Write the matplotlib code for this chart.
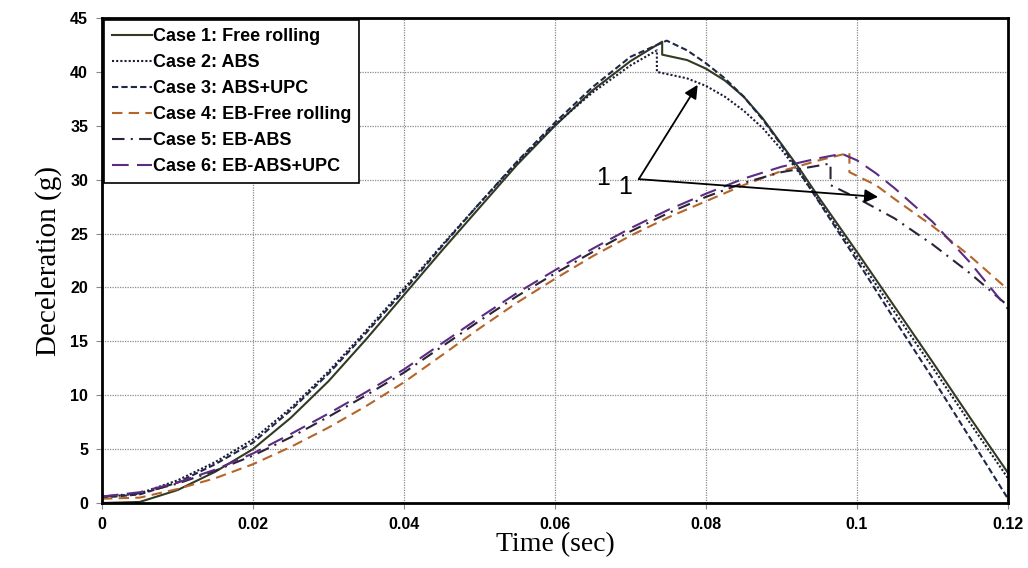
import numpy as np
import matplotlib
matplotlib.use('Agg')
import matplotlib.pyplot as plt

# ── Data ──────────────────────────────────────────────────────────────────────
t_case1 = [0.0, 0.005, 0.01, 0.015, 0.02, 0.025, 0.03, 0.035, 0.04, 0.045, 0.05, 0.055,
           0.06, 0.065, 0.07, 0.0742, 0.0742, 0.0775, 0.08, 0.0825, 0.085, 0.0875,
           0.09, 0.0925, 0.095, 0.1, 0.105, 0.11, 0.115, 0.12]
g_case1 = [0.0, 0.1, 1.2, 2.9, 5.0, 7.9, 11.3, 15.2, 19.3, 23.4, 27.4, 31.4,
           35.0, 38.3, 41.0, 42.8, 41.6, 41.1, 40.3, 39.2, 37.7, 35.7,
           33.3, 30.9, 28.3, 23.3, 18.2, 13.1, 7.9, 2.8]

t_case2 = [0.0, 0.005, 0.01, 0.015, 0.02, 0.025, 0.03, 0.035, 0.04, 0.045, 0.05, 0.055,
           0.06, 0.065, 0.07, 0.0735, 0.0735, 0.0775, 0.08, 0.0825, 0.085, 0.0875,
           0.09, 0.0925, 0.095, 0.1, 0.105, 0.11, 0.115, 0.12]
g_case2 = [0.5, 0.9, 2.1, 3.8, 5.9, 8.8, 12.2, 16.0, 19.9, 23.9, 27.8, 31.6,
           35.1, 38.1, 40.6, 42.0, 40.0, 39.4, 38.7, 37.7, 36.4, 34.8,
           32.8, 30.5, 28.0, 22.9, 17.7, 12.6, 7.4, 2.3]

t_case3 = [0.0, 0.005, 0.01, 0.015, 0.02, 0.025, 0.03, 0.035, 0.04, 0.045, 0.05, 0.055,
           0.06, 0.065, 0.07, 0.0748, 0.0775, 0.08, 0.0825, 0.085, 0.0875,
           0.09, 0.0925, 0.095, 0.1, 0.105, 0.11, 0.115, 0.12]
g_case3 = [0.5, 0.8, 1.9, 3.6, 5.6, 8.6, 12.0, 15.8, 19.7, 23.8, 27.8, 31.7,
           35.3, 38.6, 41.4, 42.9, 42.0, 40.8, 39.4, 37.7, 35.6,
           33.2, 30.6, 27.9, 22.5, 17.0, 11.6, 6.0, 0.4]

t_case4 = [0.0, 0.005, 0.01, 0.015, 0.02, 0.025, 0.03, 0.035, 0.04, 0.045, 0.05, 0.055,
           0.06, 0.065, 0.07, 0.075, 0.08, 0.085, 0.09, 0.095, 0.099,
           0.099, 0.1025, 0.105, 0.11, 0.115, 0.12]
g_case4 = [0.4, 0.5, 1.3, 2.3, 3.6, 5.2, 7.0, 9.0, 11.2, 13.7, 16.2, 18.6,
           20.8, 22.9, 24.8, 26.5, 28.0, 29.5, 30.8, 31.8, 32.5,
           30.7, 29.5, 28.2, 25.7, 22.9, 19.8]

t_case5 = [0.0, 0.005, 0.01, 0.015, 0.02, 0.025, 0.03, 0.035, 0.04, 0.045, 0.05, 0.055,
           0.06, 0.065, 0.07, 0.075, 0.08, 0.085, 0.09, 0.0965,
           0.0965, 0.1, 0.105, 0.11, 0.115, 0.12]
g_case5 = [0.6, 0.9, 1.8, 3.0, 4.4, 6.1, 8.0, 10.0, 12.1, 14.5, 16.9, 19.2,
           21.3, 23.3, 25.2, 26.9, 28.4, 29.7, 30.7, 31.5,
           29.5, 28.3, 26.4, 24.0, 21.3, 18.3]

t_case6 = [0.0, 0.005, 0.01, 0.015, 0.02, 0.025, 0.03, 0.035, 0.04, 0.045, 0.05, 0.055,
           0.06, 0.065, 0.07, 0.075, 0.08, 0.085, 0.09, 0.095, 0.098,
           0.1, 0.1025, 0.105, 0.11, 0.115, 0.12]
g_case6 = [0.6, 1.0, 1.9, 3.1, 4.6, 6.4, 8.3, 10.3, 12.4, 14.8, 17.2, 19.5,
           21.6, 23.6, 25.5, 27.2, 28.7, 30.1, 31.2, 32.0, 32.4,
           31.8, 30.6, 29.2, 26.1, 22.3, 18.0]

labels = ['Case 1: Free rolling', 'Case 2: ABS', 'Case 3: ABS+UPC',
          'Case 4: EB-Free rolling', 'Case 5: EB-ABS', 'Case 6: EB-ABS+UPC']

x_ticks = [0, 0.02, 0.04, 0.06, 0.08, 0.1, 0.12]
x_ticklabels = ['0', '0.02', '0.04', '0.06', '0.08', '0.1', '0.12']
y_ticks = [0, 5, 10, 15, 20, 25, 30, 35, 40, 45]

# annotation "1 1" with two arrows
arrow_base = (0.0711, 30.05)
arrow_tips = [(0.0789, 38.8), (0.1028, 28.4)]
ann_pos = [(0.0664, 30.2), (0.0693, 29.3)]

# ── Styles ────────────────────────────────────────────────────────────────────
series = [
    (t_case1, g_case1, '#323a22', '-'),
    (t_case2, g_case2, '#1c1c38', (0, (1, 1))),
    (t_case3, g_case3, '#1f2947', (0, (3, 1.5))),
    (t_case4, g_case4, '#b5652a', (0, (5, 3))),
    (t_case5, g_case5, '#2e2238', (0, (6, 3, 1, 3))),
    (t_case6, g_case6, '#5b2c83', (0, (8, 4))),
]

fig = plt.figure(figsize=(10.28, 5.68), dpi=100)
ax = fig.add_axes([0.0992, 0.1144, 0.8813, 0.8539])

for (t, g, col, ls), lab in zip(series, labels):
    ax.plot(t, g, color=col, linestyle=ls, lw=1.5, label=lab)

for tip in arrow_tips:
    ax.annotate('', xy=tip, xytext=arrow_base,
                arrowprops=dict(arrowstyle='-|>', color='black', lw=1.3,
                                mutation_scale=20, shrinkA=0, shrinkB=0))
for (tx, ty) in ann_pos:
    ax.text(tx, ty, '1', fontsize=18, family='Liberation Sans',
            ha='center', va='center')

ax.set_xlim(0, 0.12)
ax.set_ylim(0, 45)
ax.set_xticks(x_ticks)
ax.set_xticklabels(x_ticklabels)
ax.set_yticks(y_ticks)
ax.grid(True, color='#8c8c8c', linestyle=(0, (1, 1)), lw=0.9)
ax.set_axisbelow(True)

for lbl in ax.get_xticklabels() + ax.get_yticklabels():
    lbl.set_fontfamily('Liberation Sans')
    lbl.set_fontweight('bold')
    lbl.set_fontsize(11.5)
ax.tick_params(direction='out', length=4, color='#888888', pad=6)

for sp in ax.spines.values():
    sp.set_linewidth(2)
    sp.set_color('black')

ax.set_xlabel('Time (sec)', fontsize=20, family='Liberation Serif', labelpad=0)
ax.set_ylabel('Deceleration (g)', fontsize=21, family='Liberation Serif', labelpad=6)

leg = ax.legend(loc='upper left', prop={'family': 'Liberation Sans', 'weight': 'bold', 'size': 13},
                handlelength=2.2, handletextpad=0.05, labelspacing=0.5,
                borderpad=0.45, borderaxespad=0.1, fancybox=False, framealpha=1)
leg.get_frame().set_edgecolor('black')
leg.get_frame().set_linewidth(1.2)

fig.savefig('out.png', dpi=100)
